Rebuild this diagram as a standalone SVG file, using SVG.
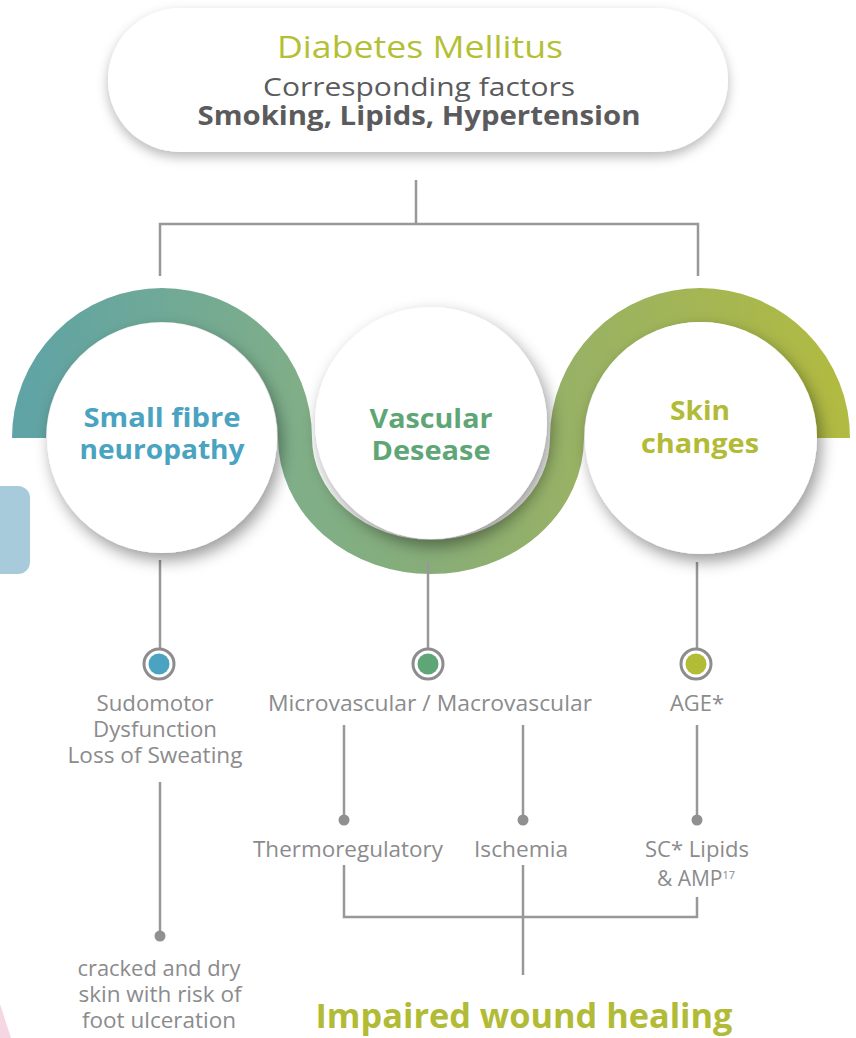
<svg xmlns="http://www.w3.org/2000/svg" width="856" height="1038" viewBox="0 0 856 1038">
  <defs>
    <linearGradient id="bandGrad" gradientUnits="userSpaceOnUse" x1="10" y1="0" x2="850" y2="0">
      <stop offset="0" stop-color="#5ea3a7"/>
      <stop offset="0.34" stop-color="#7fae88"/>
      <stop offset="0.5" stop-color="#87ad78"/>
      <stop offset="0.66" stop-color="#97b166"/>
      <stop offset="1" stop-color="#b2bb40"/>
    </linearGradient>
    <filter id="boxShadow" x="-10%" y="-20%" width="120%" height="150%">
      <feDropShadow dx="0" dy="5" stdDeviation="6" flood-color="#000" flood-opacity="0.28"/>
    </filter>
    <filter id="circleShadow" x="-30%" y="-30%" width="160%" height="160%">
      <feDropShadow dx="4" dy="7" stdDeviation="8" flood-color="#000" flood-opacity="0.4"/>
    </filter>
  </defs>
  <style>
    .title { font-family: "Open Sans", "Noto Sans", sans-serif; text-anchor: middle; }
    .head { font-family: "Open Sans", "Noto Sans", sans-serif; font-weight: bold; text-anchor: middle; font-size: 27px; }
    .label { font-family: "Open Sans", "Noto Sans", sans-serif; text-anchor: middle; font-size: 21px; fill: #8b8b8d; }
    .line { stroke: #98989a; stroke-width: 2.5; fill: none; }
    .ring { fill: #fff; stroke: #8d8d8f; stroke-width: 3; }
    .dot { fill: #909092; }
    .disc { fill: #fff; filter: url(#circleShadow); }
  </style>

  <rect width="856" height="1038" fill="#fff"/>

  <!-- side decorations -->
  <rect x="-20" y="486" width="50" height="88" rx="12" fill="#a7cbdb"/>
  <polygon points="0,1004 11,1038 0,1038" fill="#f7d6e4"/>

  <!-- header -->
  <g id="header">
    <rect x="108" y="8" width="620" height="144" rx="72" fill="#fff" filter="url(#boxShadow)"/>
    <text class="title" x="420" y="58" font-size="31" fill="#b5bf35" textLength="286" lengthAdjust="spacingAndGlyphs">Diabetes Mellitus</text>
    <text class="title" x="419" y="96" font-size="26" fill="#5b5b5d" textLength="312" lengthAdjust="spacingAndGlyphs">Corresponding factors</text>
    <text class="title" x="419" y="125" font-size="27" font-weight="bold" fill="#5b5b5d" textLength="443" lengthAdjust="spacingAndGlyphs">Smoking, Lipids, Hypertension</text>
  </g>

  <!-- wave band -->
  <path id="band" d="M29,438 A133,133 0 0 1 295,438 A136,119 0 0 0 567,438 A133,133 0 0 1 833,438" fill="none" stroke="url(#bandGrad)" stroke-width="34"/>

  <!-- connectors -->
  <g id="connectors">
    <path class="line" d="M416,180 V224 M160,276 V224 H698 V276"/>
    <path class="line" d="M160,560 V649"/>
    <path class="line" d="M428,562 V649"/>
    <path class="line" d="M697,562 V649"/>
    <path class="line" d="M160,782 V936"/>
    <path class="line" d="M344,725 V820"/>
    <path class="line" d="M523,725 V820"/>
    <path class="line" d="M697,725 V820"/>
    <path class="line" d="M344,865 V917 H697 V897"/>
    <path class="line" d="M523,865 V975"/>
    <circle class="dot" cx="160" cy="936" r="5.5"/>
    <circle class="dot" cx="344" cy="820" r="5.5"/>
    <circle class="dot" cx="523" cy="820" r="5.5"/>
    <circle class="dot" cx="697" cy="820" r="5.5"/>
  </g>

  <!-- main circles -->
  <g id="neuropathy">
    <circle class="disc" cx="162" cy="438" r="115"/>
    <text class="head" x="162" y="427" fill="#4aa3c0" textLength="157" lengthAdjust="spacingAndGlyphs">Small fibre</text>
    <text class="head" x="162" y="459" fill="#4aa3c0" textLength="165" lengthAdjust="spacingAndGlyphs">neuropathy</text>
  </g>
  <g id="vascular">
    <circle class="disc" cx="431" cy="423" r="116"/>
    <text class="head" x="431" y="428" fill="#5fa677" textLength="123" lengthAdjust="spacingAndGlyphs">Vascular</text>
    <text class="head" x="431" y="460" fill="#5fa677" textLength="119" lengthAdjust="spacingAndGlyphs">Desease</text>
  </g>
  <g id="skin">
    <circle class="disc" cx="701" cy="438" r="116"/>
    <text class="head" x="700" y="420" fill="#b2bb35" textLength="60" lengthAdjust="spacingAndGlyphs">Skin</text>
    <text class="head" x="700" y="453" fill="#b2bb35" textLength="118" lengthAdjust="spacingAndGlyphs">changes</text>
  </g>

  <!-- ring markers -->
  <g id="marker-neuro">
    <circle class="ring" cx="159" cy="664" r="15"/>
    <circle cx="159" cy="664" r="10.5" fill="#4aa3c0"/>
  </g>
  <g id="marker-vasc">
    <circle class="ring" cx="428" cy="664" r="15"/>
    <circle cx="428" cy="664" r="10.5" fill="#5fa677"/>
  </g>
  <g id="marker-skin">
    <circle class="ring" cx="696" cy="664" r="15"/>
    <circle cx="696" cy="664" r="10.5" fill="#b3bc36"/>
  </g>

  <!-- labels -->
  <g id="sudomotor">
    <text class="label" x="155" y="711" textLength="117" lengthAdjust="spacingAndGlyphs">Sudomotor</text>
    <text class="label" x="155" y="737" textLength="124" lengthAdjust="spacingAndGlyphs">Dysfunction</text>
    <text class="label" x="155" y="763" textLength="175" lengthAdjust="spacingAndGlyphs">Loss of Sweating</text>
  </g>
  <g id="cracked">
    <text class="label" x="159" y="976" textLength="163" lengthAdjust="spacingAndGlyphs">cracked and dry</text>
    <text class="label" x="160" y="1002" textLength="163" lengthAdjust="spacingAndGlyphs">skin with risk of</text>
    <text class="label" x="159" y="1028" textLength="154" lengthAdjust="spacingAndGlyphs">foot ulceration</text>
  </g>
  <g id="micromacro">
    <text class="label" x="430" y="711" textLength="324" lengthAdjust="spacingAndGlyphs">Microvascular / Macrovascular</text>
  </g>
  <g id="age">
    <text class="label" x="697" y="711" textLength="54" lengthAdjust="spacingAndGlyphs">AGE*</text>
  </g>
  <g id="thermo">
    <text class="label" x="348" y="857" textLength="190" lengthAdjust="spacingAndGlyphs">Thermoregulatory</text>
  </g>
  <g id="ischemia">
    <text class="label" x="521" y="857" textLength="94" lengthAdjust="spacingAndGlyphs">Ischemia</text>
  </g>
  <g id="sclipids">
    <text class="label" x="697" y="857" textLength="104" lengthAdjust="spacingAndGlyphs">SC* Lipids</text>
    <text class="label" x="696" y="886">&amp; AMP<tspan font-size="11" dy="-7">17</tspan></text>
  </g>
  <g id="outcome">
    <text class="head" x="524" y="1028" fill="#b2bb35" style="font-size:34px" textLength="417" lengthAdjust="spacingAndGlyphs">Impaired wound healing</text>
  </g>
</svg>
